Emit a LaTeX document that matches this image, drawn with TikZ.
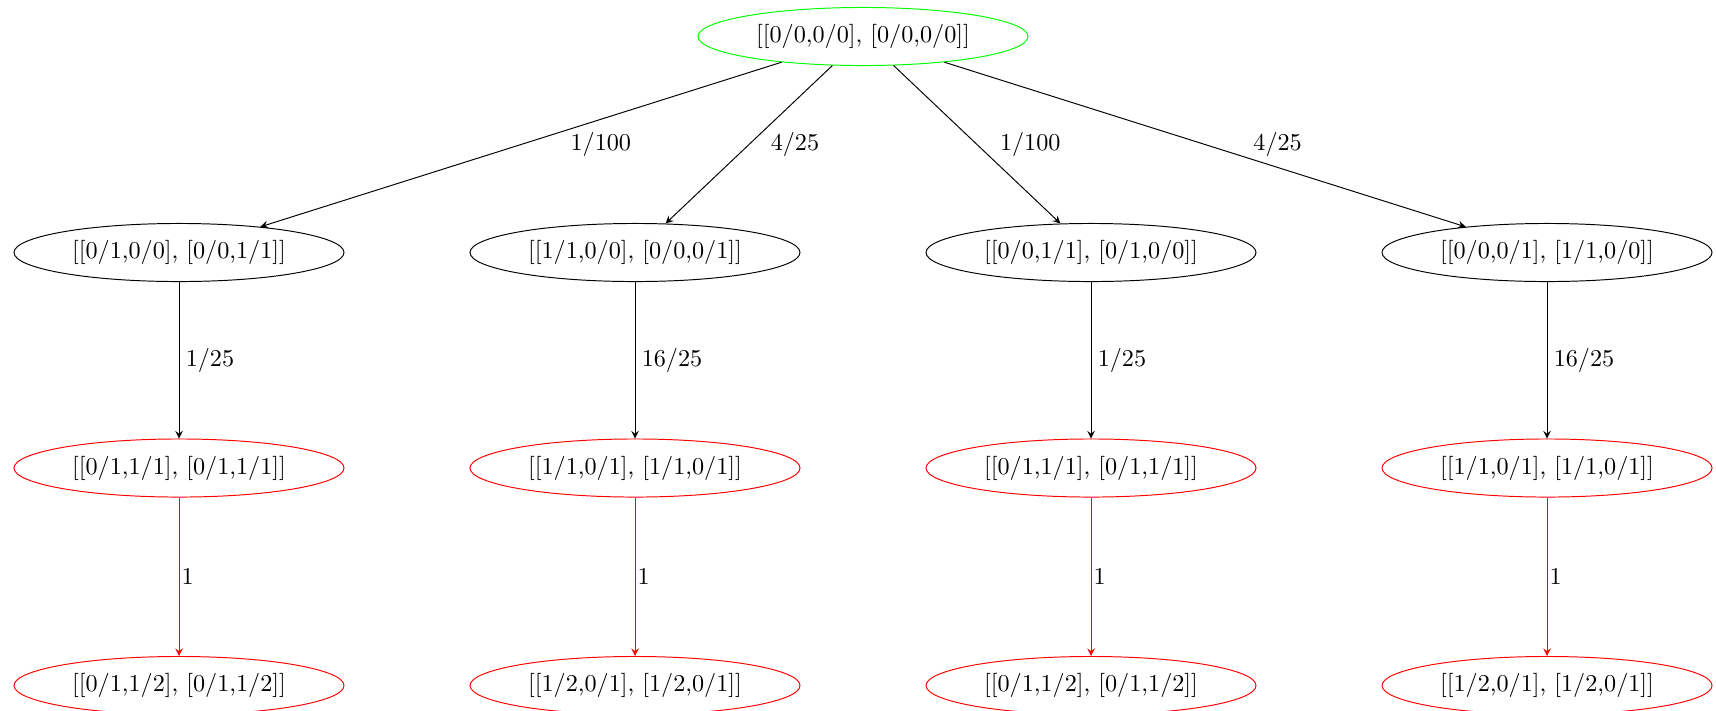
\documentclass[tikz,border=0pt]{standalone}
\usepackage{amsmath}
\usepackage{tikz}
\usetikzlibrary{arrows}
\usetikzlibrary{shapes}

\tikzset{
  state/.style={shape=ellipse, draw, minimum width=136.4pt, minimum height=24pt, inner sep=0pt},
  start/.style={state, draw=green},
  stop/.style={state, draw=red},
  prob/.style={midway, inner sep=0pt},
}

\begin{document}
\begin{tikzpicture}[x=0.4133pt, y=-0.4133pt]
\useasboundingbox (0,0) rectangle (1716,710);
\node [start] (R) at (863,36.5) {[[0/0,0/0], [0/0,0/0]]};
% first level
\node [state] (A) at (179,252.5) {[[0/1,0/0], [0/0,1/1]]};
\node [state] (B) at (635,252.5) {[[1/1,0/0], [0/0,0/1]]};
\node [state] (C) at (1091,252.5) {[[0/0,1/1], [0/1,0/0]]};
\node [state] (D) at (1547,252.5) {[[0/0,0/1], [1/1,0/0]]};
% second level
\node [stop] (A2) at (179,468) {[[0/1,1/1], [0/1,1/1]]};
\node [stop] (B2) at (635,468) {[[1/1,0/1], [1/1,0/1]]};
\node [stop] (C2) at (1091,468) {[[0/1,1/1], [0/1,1/1]]};
\node [stop] (D2) at (1547,468) {[[1/1,0/1], [1/1,0/1]]};
% third level
\node [stop] (A3) at (179,685.5) {[[0/1,1/2], [0/1,1/2]]};
\node [stop] (B3) at (635,685.5) {[[1/2,0/1], [1/2,0/1]]};
\node [stop] (C3) at (1091,685.5) {[[0/1,1/2], [0/1,1/2]]};
\node [stop] (D3) at (1547,685.5) {[[1/2,0/1], [1/2,0/1]]};

\draw[-stealth] (R) -- node[prob, xshift=33pt] {1/100} (A);
\draw[-stealth] (R) -- node[prob, xshift=19pt] {4/25} (B);
\draw[-stealth] (R) -- node[prob, xshift=22pt] {1/100} (C);
\draw[-stealth] (R) -- node[prob, xshift=30pt] {4/25} (D);

\draw[-stealth] (A) -- node[prob, xshift=12.8pt] {1/25} (A2);
\draw[-stealth] (B) -- node[prob, xshift=15.3pt] {16/25} (B2);
\draw[-stealth] (C) -- node[prob, xshift=12.8pt] {1/25} (C2);
\draw[-stealth] (D) -- node[prob, xshift=15.3pt] {16/25} (D2);

\draw[-stealth, draw=red] (A2) -- node[prob, xshift=3.6pt] {1} (A3);
\draw[-stealth, draw=red] (B2) -- node[prob, xshift=3.6pt] {1} (B3);
\draw[-stealth, draw=red] (C2) -- node[prob, xshift=3.6pt] {1} (C3);
\draw[-stealth, draw=red] (D2) -- node[prob, xshift=3.6pt] {1} (D3);
\end{tikzpicture}
\end{document}
